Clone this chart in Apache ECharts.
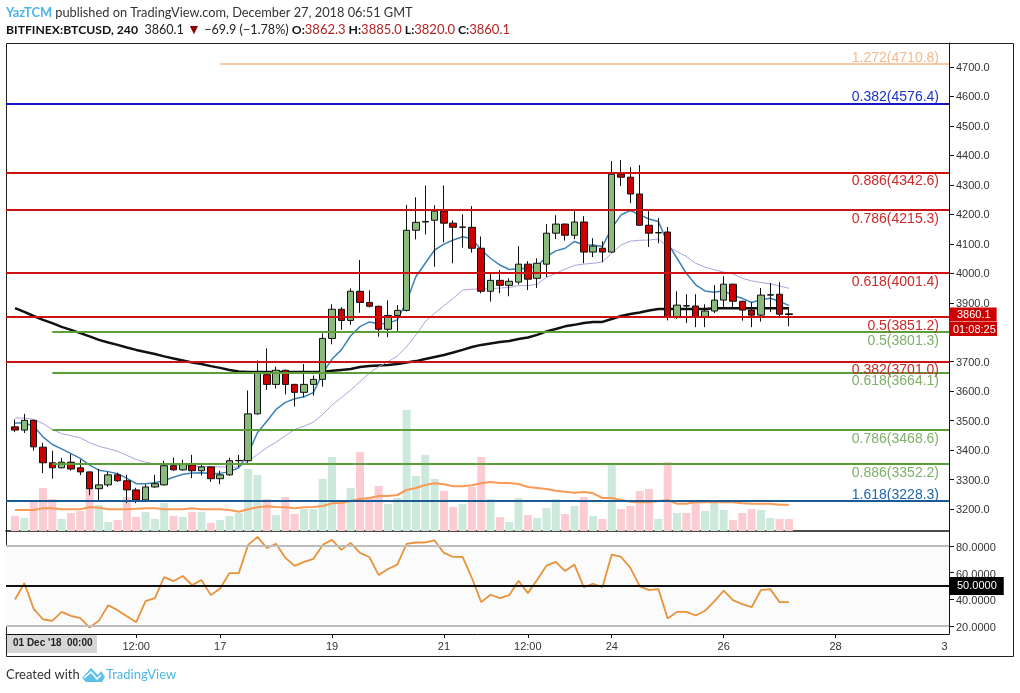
<!DOCTYPE html>
<html><head><meta charset="utf-8">
<style>html,body{margin:0;padding:0;background:#fff}#c{width:1020px;height:693px}</style>
<script src="https://cdn.jsdelivr.net/npm/echarts@6/dist/echarts.min.js"></script>
</head><body><div id="c"></div>
<script>
const opens=[3479,3468,3501,3410,3357,3340,3359,3340,3326,3269,3282,3316,3296,3265,3231,3275,3282,3347,3333,3350,3330,3343,3303,3316,3364,3364,3523,3656,3623,3671,3623,3596,3623,3640,3779,3878,3840,3939,3901,3888,3810,3857,3874,4146,4174,4180,4211,4170,4156,4156,4085,3939,3976,3959,3970,4031,3983,4031,4136,4167,4129,4174,4072,4085,4072,4336,4326,4269,4163,4137,4140,3851,3890,3889,3851,3872,3909,3963,3905,3875,3858,3926,3929,3862.3];
const closes=[3468,3501,3411,3357,3340,3359,3336,3326,3269,3282,3316,3296,3265,3231,3275,3286,3347,3333,3353,3330,3343,3303,3316,3364,3365,3523,3661,3623,3671,3623,3596,3623,3640,3779,3878,3840,3939,3901,3888,3810,3857,3874,4146,4173,4176,4211,4170,4156,4157,4085,3939,3976,3959,3973,4031,3980,4034,4136,4167,4129,4174,4072,4092,4072,4336,4326,4269,4163,4136,4138,3851,3892,3889,3851,3872,3909,3963,3905,3875,3858,3926,3927,3861,3860.1];
const lows=[3461,3458,3398,3322,3303,3338,3330,3315,3247,3230,3275,3292,3220,3220,3225,3272,3280,3330,3330,3305,3314,3292,3284,3313,3343,3357,3520,3604,3609,3589,3548,3579,3585,3615,3759,3808,3825,3866,3884,3785,3783,3804,3870,4115,4132,4022,4105,4034,4087,4070,3932,3904,3932,3922,3962,3943,3950,3987,4116,4111,4116,4034,4055,4038,4070,4296,4238,4162,4089,4102,3840,3845,3831,3817,3817,3865,3885,3885,3839,3817,3836,3868,3850,3820];
const highs=[3504,3523,3503,3425,3398,3374,3386,3368,3328,3336,3326,3323,3316,3272,3284,3316,3364,3374,3367,3384,3357,3345,3330,3374,3384,3602,3704,3745,3683,3673,3625,3692,3653,3796,3895,3885,3949,4045,3942,3890,3908,3892,4232,4258,4298,4231,4298,4180,4200,4228,4125,4003,4011,3983,4092,4041,4051,4167,4197,4169,4218,4194,4119,4109,4381,4384,4360,4367,4211,4187,4157,3939,3929,3929,3895,3960,3990,3965,3907,3902,3950,3967,3970,3885];
const emaFast=[3492,3492,3481,3445,3419,3404,3388,3372,3349,3332,3327,3320,3304,3286,3286,3289,3297,3308,3318,3322,3323,3321,3321,3327,3340,3388,3459,3498,3538,3562,3574,3581,3595,3661,3709,3740,3788,3819,3835,3829,3830,3842,3904,3989,4034,4079,4099,4113,4124,4117,4079,4051,4028,4013,4015,4017,4023,4057,4076,4085,4108,4096,4096,4091,4153,4198,4213,4198,4184,4176,4102,4051,4000,3961,3940,3936,3941,3924,3915,3901,3910,3915,3904,3891];
const emaSlow=[3509,3509,3504,3490,3470,3456,3449,3442,3425,3413,3405,3396,3382,3368,3359,3353,3351,3350,3348,3346,3344,3344,3343,3342,3343,3362,3385,3408,3427,3449,3470,3481,3495,3521,3553,3578,3604,3632,3661,3683,3700,3719,3751,3791,3836,3864,3890,3915,3943,3946,3947,3948,3950,3952,3958,3958,3963,3986,4000,4014,4027,4031,4034,4038,4068,4096,4109,4112,4113,4116,4091,4074,4057,4034,4021,4012,4004,3998,3983,3974,3969,3964,3957,3949];
const maLong=[3882,3869,3855,3842,3831,3818,3808,3797,3786,3774,3765,3757,3748,3740,3733,3726,3718,3711,3704,3697,3692,3685,3679,3672,3667,3665,3665,3665,3665,3665,3665,3665,3665,3665,3669,3672,3675,3682,3685,3687,3689,3692,3697,3702,3709,3716,3723,3731,3740,3750,3757,3762,3767,3770,3777,3782,3791,3803,3811,3820,3825,3831,3835,3835,3845,3855,3862,3867,3874,3879,3879,3879,3879,3879,3879,3881,3881,3881,3881,3881,3881,3881,3881,3881];
const volumes=[15,13,29,43,32,12,18,20,44,26,9,11,34,14,19,12,28,15,14,19,19,8,11,15,18,62,56,32,16,34,17,22,22,52,74,29,43,79,34,45,27,33,121,55,76,52,40,24,27,44,74,32,14,9,33,16,13,23,32,17,25,34,15,12,68,22,25,40,42,12,69,18,18,31,20,29,21,11,18,22,21,13,12,12];
const volumeMA=[21,21,21,22.7,22.7,21.7,21.7,21.7,24,23.3,21.7,21.7,21.7,22.3,22.7,22.7,21.7,21.7,21.7,22.7,21.7,21.7,21.7,21,19.3,21.7,23.7,24.7,24,23.7,22.7,23.7,24,25,27.7,28,30,32,33,35,35,36,41,43,46,47.7,46.7,44.7,44.7,45.7,47.7,49,48,48,47,44,43,42,40.3,39.3,38.3,39,37.7,33,33,31,29.3,28.7,28.7,30,31,27.3,27.3,29,28.7,28.7,28.7,28.7,27.7,27.3,27.3,27.3,26.3,26.3];
const rsi=[40,52.2,33,25.2,24,30.7,27.7,26,19,24.2,35.7,32,27.5,23,38.7,41,56.7,53.7,57.5,50.7,54.5,43.2,48.2,59.7,59.7,80.7,86.7,78.5,81.5,71,65,68,70.2,80.7,84.5,77,82.2,74.7,71.7,58.2,62.7,66,81.5,82.5,82.5,84,74.7,71.7,71.7,56,38,43.5,41,43.2,54,44.7,54.7,65.2,68,61.2,66,49.2,51.7,49.2,73.5,71.7,63.5,49.7,47,47.7,25.7,30.7,30.7,28,31.5,38.5,46.5,39.5,36.5,34.2,47,47.7,38,38];
const priceTicks=[3200,3300,3400,3500,3600,3700,3800,3900,4000,4100,4200,4300,4400,4500,4600,4700];
const rsiTicks=[20,40,60,80];
const timeTickBars=[13,22,34,46,55,64,76,88,99.7];
const timeTickLabels=['12:00','17','19','21','12:00','24','26','28','3'];
const fibValues=[4710.8,4576.4,4342.6,4215.3,4001.4,3851.2,3801.3,3701.0,3664.1,3468.6,3352.2,3228.3];
const fibRatios=['1.272','0.382','0.886','0.786','0.618','0.5','0.5','0.382','0.618','0.786','0.886','1.618'];
const fibColors=['#f5b88c','#1414c8','#cc1212','#cc1212','#cc1212','#cc1212','#5c9e3a','#cc1212','#5c9e3a','#5c9e3a','#5c9e3a','#1c5a96'];
const fibTextColors=['#f3b98e','#1c34c4','#cc2a2a','#cc2a2a','#cc2a2a','#cc2a2a','#7fb069','#cc2a2a','#7fb069','#7fb069','#7fb069','#1f64a8'];
const fibStartBar=[22,-1,-1,-1,-1,-1,4,-1,4,4,4,-1];
const fibAbove=[true,true,false,false,false,false,false,false,false,false,false,true];

const xMin=-0.966,xMax=100.17;
const fam='"Liberation Sans",Arial,sans-serif';
const barsIdx=opens.map((_,i)=>i);
const pair=a=>a.map((v,i)=>[i,v]);
const line=(data,color,width,z,axis)=>({type:'line',data:pair(data),xAxisIndex:0,yAxisIndex:axis||0,showSymbol:false,symbol:'none',smooth:false,silent:true,z,animation:false,lineStyle:{color,width}});

const series=[
 {type:'bar',xAxisIndex:0,yAxisIndex:1,barWidth:8,z:1,silent:true,animation:false,
  data:barsIdx.map(i=>({value:[i,volumes[i]],itemStyle:{color:closes[i]>=opens[i]?'#cde9db':'#fbcdd2'}}))},
 line(volumeMA,'#fb9a55',2,2,1),
 line(maLong,'#111111',2.5,3),
 line(emaSlow,'#aca3dc',1,3),
 line(emaFast,'#3c82b4',1.5,3),
 {type:'candlestick',xAxisIndex:0,yAxisIndex:0,barWidth:7,z:4,silent:true,animation:false,
  encode:{x:0,y:[1,2,3,4]},
  data:barsIdx.map(i=>[i,opens[i],closes[i],lows[i],highs[i]]),
  itemStyle:{color:'#8aba7c',color0:'#cc0000',borderColor:'#111',borderColor0:'#111',borderWidth:1}},
 {type:'line',xAxisIndex:0,yAxisIndex:0,data:[],z:5,silent:true,animation:false,
  markLine:{silent:true,symbol:'none',animation:false,z:5,precision:1,
   data:fibValues.map((v,i)=>[
    {coord:[fibStartBar[i]<0?xMin:fibStartBar[i],v],lineStyle:{color:fibColors[i],width:i==0?1.5:2.2,type:'solid'},
     label:{show:true,position:fibAbove[i]?'insideEndTop':'insideEndBottom',distance:fibAbove[i]?-1:2,padding:fibAbove[i]?[0,11,0,0]:[0,8,0,0],
      formatter:fibRatios[i]+'('+v.toFixed(1)+')',color:fibTextColors[i],fontSize:14,fontFamily:fam}},
    {coord:[xMax,v]}])}},
 {type:'line',xAxisIndex:0,yAxisIndex:0,data:[],z:6,silent:true,animation:false,
  markLine:{silent:true,symbol:'none',animation:false,z:6,
   data:[{yAxis:closes[closes.length-1],lineStyle:{color:'rgba(0,0,0,0)',width:1,opacity:1},
     label:{show:true,position:'end',distance:0,formatter:closes[closes.length-1].toFixed(1),opacity:1,
     backgroundColor:'#cc0000',color:'#fff',fontSize:11,fontFamily:fam,padding:[2,6,1,8]}}]}},
 {type:'line',xAxisIndex:1,yAxisIndex:2,data:[],z:1,silent:true,animation:false,
  markArea:{silent:true,animation:false,itemStyle:{color:'#fbfbfb'},data:[[{yAxis:80},{yAxis:20}]]},
  markLine:{silent:true,symbol:'none',animation:false,
   data:[{yAxis:80,lineStyle:{color:'#bdbdbd',width:2,type:'solid'},label:{show:false}},
         {yAxis:20,lineStyle:{color:'#bdbdbd',width:2,type:'solid'},label:{show:false}},
         {yAxis:50,lineStyle:{color:'#111',width:2,type:'solid'},
          label:{show:true,position:'end',distance:0,formatter:'50.0000',backgroundColor:'#000',color:'#fff',fontSize:11,fontFamily:fam,padding:[4,7,3,8]}}]}},
 {type:'line',data:pair(rsi),xAxisIndex:1,yAxisIndex:2,showSymbol:false,symbol:'none',silent:true,z:3,animation:false,lineStyle:{color:'#e8923a',width:1.8}}
];

const option={
 animation:false,backgroundColor:'#fff',
 title:[
  {left:1,top:1,text:'{a|YazTCM}{b| published on TradingView.com, December 27, 2018 06:51 GMT}',
   textStyle:{rich:{a:{fontFamily:'Lato',fontSize:12.8,fontWeight:'bold',color:'#4db5e6'},b:{fontFamily:'Lato',fontSize:12.8,fontWeight:'normal',color:'#333'}}}},
  {left:1,top:18,text:'{h|BITFINEX:BTCUSD, 240}{n|  3860.1 }{d|▼}{n| −69.9 (−1.78%) }{h|O:}{r|3862.3}{h| H:}{r|3885.0}{h| L:}{r|3820.0}{h| C:}{r|3860.1}',
   textStyle:{rich:{h:{fontFamily:'Lato',fontSize:12.2,fontWeight:'bold',color:'#111'},n:{fontFamily:'Lato',fontSize:12.6,fontWeight:'normal',color:'#222'},
    d:{fontSize:14,fontWeight:'normal',color:'#8b0000'},r:{fontFamily:'Lato',fontSize:13,fontWeight:'normal',color:'#b22222'}}}}
 ],
 grid:[{left:6,top:43,width:943,height:488,containLabel:false},{left:6,top:531.5,width:943,height:102.5,containLabel:false}],
 xAxis:[
  {type:'value',gridIndex:0,min:xMin,max:xMax,splitLine:{show:false},axisTick:{show:false},axisLabel:{show:false},axisLine:{show:true,onZero:false,lineStyle:{color:'#111',width:1.5}}},
  {type:'value',gridIndex:1,min:xMin,max:xMax,splitLine:{show:false},axisLine:{show:true,onZero:false,lineStyle:{color:'#111',width:1}},
   axisTick:{show:true,length:4,customValues:timeTickBars.slice(0,8),lineStyle:{color:'#111'}},
   axisLabel:{show:true,customValues:timeTickBars,hideOverlap:false,color:'#333',fontSize:11,fontFamily:fam,margin:7,
    formatter:v=>timeTickLabels[timeTickBars.indexOf(v)]}}
 ],
 yAxis:[
  {type:'value',gridIndex:0,position:'right',min:3125.5,max:4781.4,splitLine:{show:false},
   axisLine:{show:true,onZero:false,lineStyle:{color:'#111',width:1}},
   axisTick:{show:true,length:5,customValues:priceTicks,lineStyle:{color:'#111'}},
   axisLabel:{show:true,customValues:priceTicks,margin:7,formatter:v=>'{t|'+v.toFixed(1)+'}',
    rich:{t:{color:'#333',fontSize:11,fontFamily:fam,padding:[2,0,0,0]}}}},
  {type:'value',gridIndex:0,min:0,max:488,show:false,splitLine:{show:false}},
  {type:'value',gridIndex:1,position:'right',min:14.2,max:90.7,splitLine:{show:false},
   axisLine:{show:true,onZero:false,lineStyle:{color:'#111',width:1}},
   axisTick:{show:true,length:5,customValues:rsiTicks,lineStyle:{color:'#111'}},
   axisLabel:{show:true,customValues:rsiTicks,margin:7,formatter:v=>'{t|'+v.toFixed(4)+'}',
    rich:{t:{color:'#333',fontSize:11,fontFamily:fam,padding:[4,0,0,0]}}}}
 ],
 series,
 graphic:[
  {type:'rect',silent:true,z:0,shape:{x:6.5,y:43.5,width:1007,height:613},style:{fill:'none',stroke:'#222',lineWidth:1}},
  {type:'rect',silent:true,z:50,shape:{x:7,y:635,width:90,height:18},style:{fill:'#d6d6d6'}},
  {type:'text',silent:true,z:51,x:13,y:638,style:{text:"01 Dec '18",fill:'#222',font:'bold 10px '+fam}},
  {type:'text',silent:true,z:51,x:67,y:638,style:{text:"00:00",fill:'#222',font:'bold 10px '+fam}},
  {type:'rect',silent:true,z:50,shape:{x:949,y:322,width:48,height:14},style:{fill:'#cc0000'}},
  {type:'text',silent:true,z:51,x:953,y:324,style:{text:'01:08:25',fill:'#fff',font:'11px '+fam}},
  {type:'text',silent:true,z:51,x:6,y:668,style:{text:'Created with',fill:'#333',font:'13px Lato'}},
  {type:'text',silent:true,z:51,x:106,y:668,style:{text:'TradingView',fill:'#4db5e6',font:'13px Lato'}},
  {type:'polygon',silent:true,z:51,shape:{points:[[82,678],[91,668],[98,675],[101,671],[105,677],[102,682],[86,682]]},style:{fill:'#5cc0e8'}},
  {type:'polyline',silent:true,z:52,shape:{points:[[84,678],[91,672],[97,679],[101,675]]},style:{fill:'none',stroke:'#fff',lineWidth:1.5}}
 ]
};
echarts.init(document.getElementById('c'),null,{renderer:'canvas'}).setOption(option);
</script></body></html>
